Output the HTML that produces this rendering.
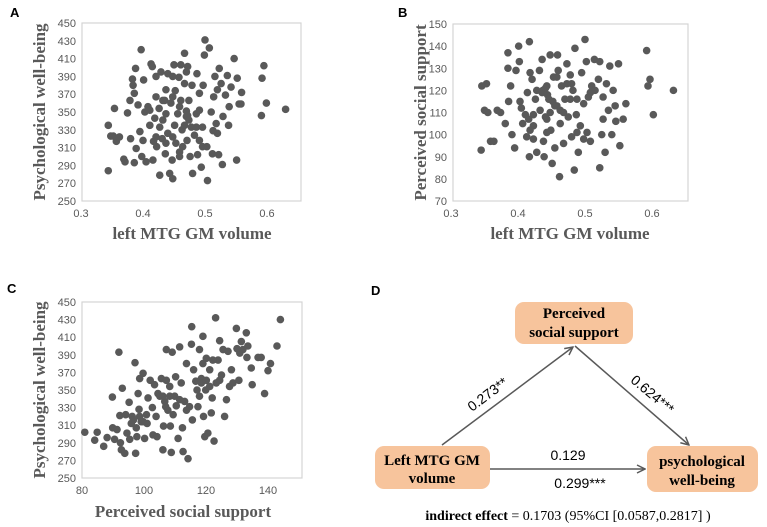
<!DOCTYPE html>
<html><head><meta charset="utf-8"><style>
html,body{margin:0;padding:0;background:#fff;}
svg{display:block;}
.tick{font-family:"Liberation Sans",sans-serif;font-size:11px;fill:#595959;}
.ttl{font-family:"Liberation Serif",serif;font-weight:bold;font-size:17px;fill:#595959;}
.let{font-family:"Liberation Sans",sans-serif;font-weight:bold;font-size:13px;fill:#000;}
.node{font-family:"Liberation Serif",serif;font-weight:bold;font-size:15px;fill:#000;}
.coef{font-family:"Liberation Sans",sans-serif;font-size:14px;fill:#000;}
</style></head><body>
<svg id="fig" width="767" height="527" viewBox="0 0 767 527" xmlns="http://www.w3.org/2000/svg">
  <text class="let" x="10" y="17">A</text>
  <text class="let" x="398" y="17">B</text>
  <text class="let" x="7" y="293">C</text>
  <text class="let" x="371" y="295">D</text>
  <g id="chartA"></g>
  <g id="chartB"></g>
  <g id="chartC"></g>

  <g>
    <defs>
      <marker id="arr" markerWidth="10" markerHeight="10" refX="9" refY="5" orient="auto" markerUnits="userSpaceOnUse">
        <path d="M1,1 L9,5 L1,9" fill="none" stroke="#595959" stroke-width="1.5"/>
      </marker>
    </defs>
    <line x1="442" y1="445" x2="573" y2="347" stroke="#595959" stroke-width="1.5" marker-end="url(#arr)"/>
    <line x1="575" y1="346" x2="689" y2="445" stroke="#595959" stroke-width="1.5" marker-end="url(#arr)"/>
    <line x1="490" y1="469" x2="645" y2="469" stroke="#595959" stroke-width="1.5" marker-end="url(#arr)"/>
    <rect x="515" y="302" width="118" height="42" rx="9" fill="#f7c49c"/>
    <text class="node" x="574" y="318" text-anchor="middle">Perceived</text>
    <text class="node" x="574" y="337" text-anchor="middle">social support</text>
    <rect x="375" y="446" width="115" height="43" rx="9" fill="#f7c49c"/>
    <text class="node" x="432" y="465" text-anchor="middle">Left MTG GM</text>
    <text class="node" x="432" y="483" text-anchor="middle">volume</text>
    <rect x="647" y="446" width="111" height="46" rx="9" fill="#f7c49c"/>
    <text class="node" x="702" y="466" text-anchor="middle">psychological</text>
    <text class="node" x="702" y="485" text-anchor="middle">well-being</text>
    <text class="coef" x="488" y="399" text-anchor="middle" transform="rotate(-37 488 395)">0.273**</text>
    <text class="coef" x="652" y="399" text-anchor="middle" transform="rotate(40 652 395)">0.624***</text>
    <text class="coef" x="568" y="460" text-anchor="middle">0.129</text>
    <text class="coef" x="580" y="488" text-anchor="middle">0.299***</text>
    <text x="568" y="520" text-anchor="middle" font-family="Liberation Serif, serif" font-size="14" fill="#000"><tspan font-weight="bold">indirect effect</tspan> = 0.1703 (95%CI [0.0587,0.2817] )</text>
  </g>
</svg>
<script>
var aX=[0.344,0.348,0.354,0.352,0.357,0.362,0.344,0.369,0.371,0.375,0.379,0.380,0.383,0.384,0.386,0.388,0.386,0.389,0.392,0.395,0.397,0.398,0.401,0.403,0.405,0.408,0.411,0.413,0.415,0.416,0.417,0.419,0.421,0.422,0.426,0.427,0.429,0.431,0.432,0.435,0.436,0.437,0.440,0.440,0.443,0.445,0.447,0.448,0.450,0.451,0.452,0.453,0.456,0.458,0.459,0.461,0.463,0.467,0.467,0.470,0.471,0.472,0.474,0.476,0.478,0.479,0.480,0.483,0.486,0.487,0.488,0.491,0.494,0.496,0.497,0.499,0.500,0.503,0.504,0.507,0.510,0.512,0.514,0.516,0.518,0.520,0.522,0.523,0.526,0.528,0.529,0.533,0.536,0.538,0.539,0.542,0.547,0.551,0.552,0.555,0.559,0.558,0.591,0.592,0.595,0.599,0.630,0.470,0.472,0.474,0.467,0.448,0.437,0.421,0.427,0.411,0.432,0.448,0.459,0.491,0.496,0.459,0.464,0.400,0.448,0.461,0.470,0.486,0.491,0.513,0.520,0.437,0.421];
var aY=[335,323,354,323,317,322,284,297,294,349,363,320,387,380,371,399,293,309,358,328,420,300,386,350,294,356,335,404,401,296,317,343,367,311,354,279,395,320,341,363,303,348,393,326,281,360,296,275,403,335,374,315,348,389,305,363,330,416,382,345,318,401,363,300,333,380,281,324,348,393,302,371,288,333,380,414,431,311,273,422,350,303,367,390,337,326,302,399,382,291,345,369,391,335,356,378,410,296,388,359,372,359,346,388,402,360,353,351,346,341,335,322,315,322,333,352,363,367,356,318,311,300,311,318,390,403,395,333,352,329,375,375,390];
var bX=[0.345,0.346,0.353,0.350,0.355,0.359,0.364,0.369,0.374,0.381,0.385,0.385,0.386,0.389,0.391,0.395,0.397,0.401,0.402,0.403,0.405,0.407,0.411,0.413,0.414,0.417,0.417,0.418,0.421,0.423,0.423,0.426,0.428,0.432,0.433,0.436,0.437,0.438,0.439,0.441,0.443,0.444,0.448,0.449,0.451,0.452,0.453,0.455,0.458,0.459,0.460,0.462,0.463,0.465,0.468,0.470,0.473,0.475,0.478,0.480,0.482,0.484,0.485,0.487,0.490,0.493,0.495,0.498,0.500,0.502,0.503,0.505,0.508,0.510,0.514,0.515,0.522,0.522,0.525,0.527,0.530,0.532,0.535,0.537,0.540,0.542,0.545,0.546,0.550,0.552,0.557,0.561,0.592,0.594,0.597,0.602,0.632,0.428,0.436,0.441,0.446,0.455,0.463,0.468,0.473,0.480,0.488,0.448,0.443,0.423,0.416,0.418,0.443,0.478,0.458,0.520,0.527,0.488,0.498,0.508];
var bY=[93,122,123,111,110,97,97,111,110,105,137,130,115,122,100,94,129,140,133,115,112,105,109,99,119,142,90,128,125,104,98,116,92,129,111,134,120,97,90,108,122,118,136,102,87,115,126,94,113,136,129,81,105,122,96,116,132,108,127,99,120,84,139,109,92,104,128,114,143,133,101,117,97,122,134,120,85,133,100,107,92,123,111,131,100,120,113,106,132,95,107,114,138,122,125,109,120,120,119,121,116,113,111,110,123,123,116,110,107,109,107,102,101,116,126,125,117,101,98,119];
var cX=[80.9,84.1,84.9,87.0,88.1,89.8,89.9,90.5,91.3,91.9,92.2,92.4,92.7,93.0,93.8,94.1,94.5,95.2,95.4,95.9,96.2,96.6,97.1,97.3,97.5,97.7,98.1,98.4,98.6,99.1,99.7,100.2,100.8,101.0,101.3,102.0,102.7,102.9,103.4,103.9,104.2,104.5,105.1,105.6,106.1,106.3,106.7,107.0,107.2,107.7,108.3,108.5,108.8,109.1,109.4,109.9,110.2,110.4,111.0,111.5,112.0,112.4,112.6,113.1,113.7,114.2,114.7,115.3,115.4,115.6,116.0,116.7,117.4,117.9,118.5,119.0,119.2,119.6,119.9,120.1,120.6,121.2,121.7,122.0,122.6,123.1,123.3,123.9,124.4,125.0,125.5,126.0,126.6,127.1,127.6,128.2,128.7,129.8,130.0,130.6,131.4,133.0,133.2,134.6,134.9,136.8,137.8,138.9,140.0,140.8,142.9,144.0,98.6,99.7,107.2,108.3,106.1,117.9,118.5,120.1,121.2,119.0,122.2,117.1,130.9,131.9,133.5,124.4,111.5,113.7];
var cY=[302,293,302,286,296,342,307,294,305,393,321,290,282,352,278,322,301,336,294,312,320,316,381,278,307,297,346,328,363,314,369,295,322,312,341,361,330,299,356,320,297,346,343,363,282,309,337,331,396,327,354,309,279,393,322,343,365,332,295,399,358,307,280,337,380,272,331,402,422,316,373,360,331,396,363,411,320,297,350,386,301,373,324,341,292,432,358,384,406,367,396,320,339,394,354,373,358,420,397,361,405,415,387,375,356,387,387,346,372,380,400,430,320,314,361,343,343,343,358,361,354,380,384,350,392,396,400,361,339,327];
var aXTicks=[0.3,0.4,0.5,0.6], aYTicks=[250,270,290,310,330,350,370,390,410,430,450];
var bXTicks=[0.3,0.4,0.5,0.6], bYTicks=[70,80,90,100,110,120,130,140,150];
var cXTicks=[80,100,120,140], cYTicks=[250,270,290,310,330,350,370,390,410,430,450];

var NS='http://www.w3.org/2000/svg';
function mk(parent,tag,attrs){var e=document.createElementNS(NS,tag);for(var k in attrs)e.setAttribute(k,attrs[k]);parent.appendChild(e);return e;}
function drawScatter(g,cfg,xs,ys,xt,yt){
  var sx=function(v){return cfg.x0+(v-cfg.xmin)*cfg.kx;};
  var sy=function(v){return cfg.bottom-(v-cfg.ymin)/(cfg.ymax-cfg.ymin)*(cfg.bottom-cfg.top);};
  var box=mk(g,'rect',{x:cfg.left,y:cfg.top,width:cfg.right-cfg.left,height:cfg.bottom-cfg.top,fill:'#fff',stroke:'#d4d4d4','stroke-width':1.2});
  
  
  yt.forEach(function(t){
    var tx=mk(g,'text',{x:cfg.left-6,y:sy(t)+4,'text-anchor':'end','class':'tick'});
    tx.textContent=t;
    
    
  });
  xt.forEach(function(t){
    var tx=mk(g,'text',{x:sx(t),y:cfg.bottom+16,'text-anchor':'middle','class':'tick'});
    tx.textContent=t;
    
    
  });
  for(var i=0;i<xs.length;i++){
    var c=mk(g,'circle',{cx:sx(xs[i]),cy:sy(ys[i]),r:3.8,fill:'#595959'});
    
    
  }
  var yl=mk(g,'text',{x:cfg.ytx,y:(cfg.top+cfg.bottom)/2+5,'text-anchor':'middle','class':'ttl',transform:'rotate(-90 '+cfg.ytx+' '+((cfg.top+cfg.bottom)/2)+')'});
  yl.textContent=cfg.ylab;
  
  
  var xl=mk(g,'text',{x:cfg.xtx,y:cfg.xty,'text-anchor':'middle','class':'ttl'});
  xl.textContent=cfg.xlab;
  
  
}
drawScatter(document.getElementById('chartA'),{left:82,right:301,top:23,bottom:201,x0:81,xmin:0.3,kx:620,ymin:250,ymax:450,ytx:40,xtx:192,xty:239,ylab:'Psychological well-being',xlab:'left MTG GM volume'},aX,aY,aXTicks,aYTicks);
drawScatter(document.getElementById('chartB'),{left:453,right:688,top:24,bottom:201,x0:451,xmin:0.3,kx:670,ymin:70,ymax:150,ytx:421,xtx:570,xty:239,ylab:'Perceived social support',xlab:'left MTG GM volume'},bX,bY,bXTicks,bYTicks);
drawScatter(document.getElementById('chartC'),{left:82,right:302,top:302,bottom:478,x0:82,xmin:80,kx:3.1,ymin:250,ymax:450,ytx:40,xtx:183,xty:517,ylab:'Psychological well-being',xlab:'Perceived social support'},cX,cY,cXTicks,cYTicks);
</script>
</body></html>
